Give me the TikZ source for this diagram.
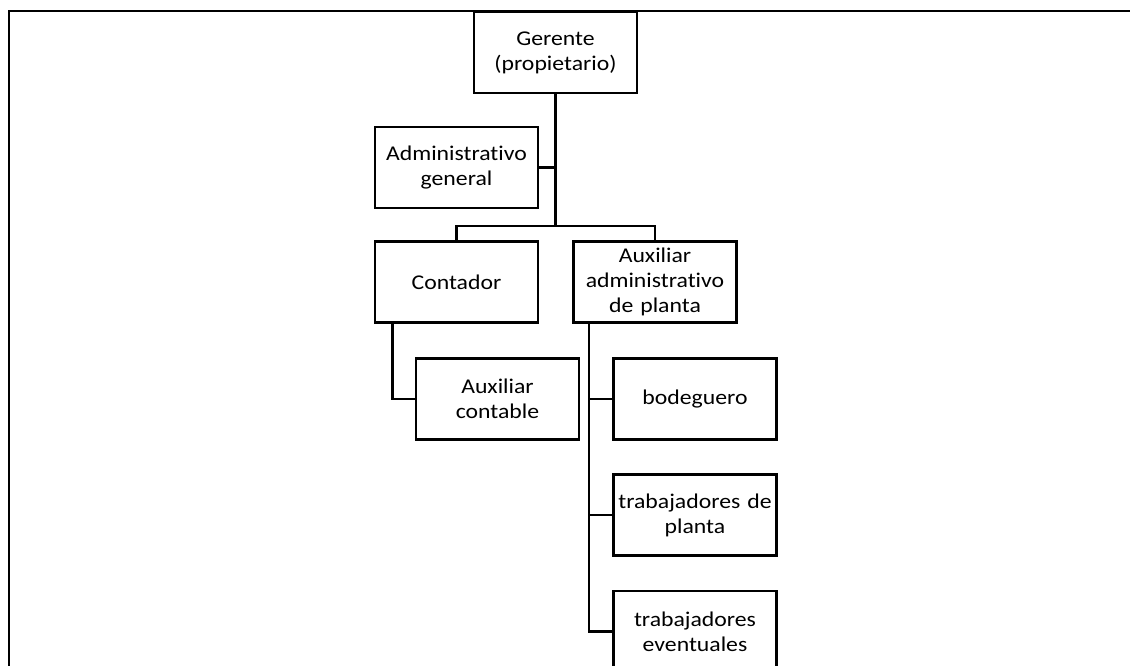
\documentclass[tikz,border=0pt]{standalone}
\usepackage{fontspec}
\setmainfont{Carlito}[FakeStretch=1.13,Ligatures={NoCommon,NoRare,NoContextual}]
\begin{document}
\begin{tikzpicture}[x=1pt,y=-1pt,
  box/.style={draw=black,line width=2.2pt,inner sep=0pt,minimum width=163pt,minimum height=81pt,
    text width=162pt,align=center,font=\fontsize{21}{25}\selectfont},
  conn/.style={draw=black,line width=2.2pt}]
\clip (0,0) rectangle (1130,666);
\useasboundingbox (0,0) rectangle (1130,666);
\draw[line width=2pt] (9,700) -- (9,11) -- (1140,11);
\node[box] (ger) at (555.5,52.5) {Gerente\\(propietario)};
\node[box] (adm) at (456.5,167.5) {Administrativo\\general};
\node[box] (con) at (456.5,282) {Contador};
\node[box] (aux) at (655,282) {Auxiliar\\administrativo\\de planta};
\node[box] (auc) at (497.5,399) {Auxiliar\\contable};
\node[box] (bod) at (695,399) {bodeguero};
\node[box] (tpl) at (695,515) {trabajadores de\\planta};
\node[box] (tev) at (695,631.5) {trabajadores\\eventuales};
\coordinate (j) at (555.5,226);
\draw[conn] (ger.south) -- (j);
\draw[conn] (adm.east) -- (adm.east -| ger.south);
\draw[conn] (con.north) |- (j) -| (aux.north);
\draw[conn] ([xshift=-64pt]con.south) |- (auc.west);
\coordinate (a) at ([xshift=-66pt]aux.south);
\draw[conn] (a) |- (tev.west);
\draw[conn] (bod.west) -- (bod.west -| a);
\draw[conn] (tpl.west) -- (tpl.west -| a);
\end{tikzpicture}
\end{document}
